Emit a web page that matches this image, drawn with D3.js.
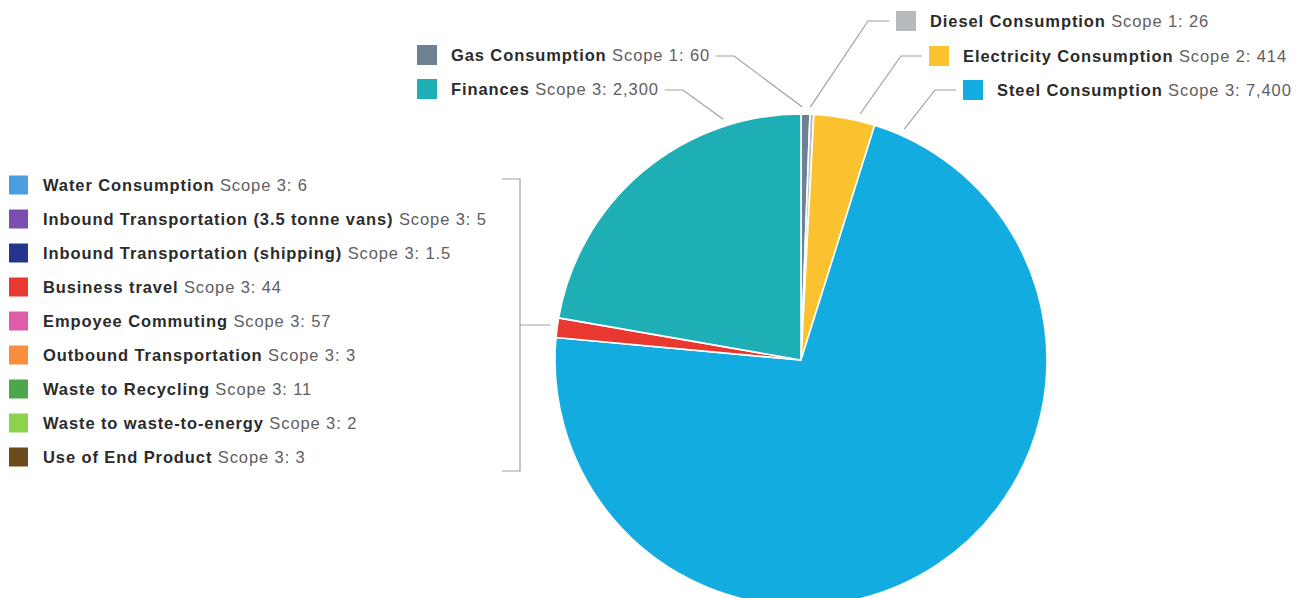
<!DOCTYPE html>
<html>
<head>
<meta charset="utf-8">
<script src="https://cdn.jsdelivr.net/npm/d3@7"></script>
<style>
  html, body { margin: 0; padding: 0; background: #fff; }
  svg { display: block; }
  text { font-family: "Liberation Sans", Arial, Helvetica, sans-serif; font-size: 16.5px; letter-spacing: 0.9px; }
  .name { font-weight: bold; fill: #2b2b2b; }
  .scope { fill: #606060; }
</style>
</head>
<body>
<svg id="chart" width="1307" height="598"></svg>
<script>
// Main pie slices, clockwise from 12 o'clock
const sliceNames  = ["Gas Consumption", "Diesel Consumption", "Electricity Consumption", "Steel Consumption", "Other Scope 3", "Finances"];
const sliceScopes = [1, 1, 2, 3, 3, 3];
const sliceValues = [60, 26, 414, 7400, null, 2300]; // null = sum of the grouped items below
const sliceColors = ["#6e8193", "#b7bbbd", "#f9c22e", "#13ace0", "#e8382f", "#1eaeb5"];

// Small Scope 3 items, drawn together as one wedge and listed on the left
const groupNames  = ["Water Consumption", "Inbound Transportation (3.5 tonne vans)", "Inbound Transportation (shipping)",
                     "Business travel", "Empoyee Commuting", "Outbound Transportation", "Waste to Recycling",
                     "Waste to waste-to-energy", "Use of End Product"];
const groupValues = [6, 5, 1.5, 44, 57, 3, 11, 2, 3];
const groupLabels = ["6", "5", "1.5", "44", "57", "3", "11", "2", "3"];
const groupColors = ["#4a9ee0", "#7a4fb0", "#25358e", "#e8382f", "#df5ca8", "#f98e3c", "#4ca64a", "#8dd14c", "#6b4a1b"];

const fmt = d3.format(",");

const svg = d3.select("#chart");
const cx = 801, cy = 360, R = 246;

const slices = sliceNames.map((n, i) => ({
  name: n,
  scope: sliceScopes[i],
  value: sliceValues[i] == null ? d3.sum(groupValues) : sliceValues[i],
  color: sliceColors[i]
}));

const pie = d3.pie().sort(null).value(d => d.value).startAngle(0).endAngle(2 * Math.PI);
const arc = d3.arc().innerRadius(0).outerRadius(R);
const arcs = pie(slices);

const g = svg.append("g").attr("transform", `translate(${cx},${cy})`);
g.selectAll("path").data(arcs).join("path")
  .attr("d", arc)
  .attr("fill", d => d.data.color)
  .attr("stroke", "#fff")
  .attr("stroke-width", 1.6)
  .attr("stroke-linejoin", "round");

// Callout layout for labelled slices: side, marker x, row y, angle where the leader meets the pie
const callouts = [
  { idx: 0, side: "left",  x: 417, y: 55, angle: 0.3 },
  { idx: 5, side: "left",  x: 417, y: 89, angle: -17.9 },
  { idx: 1, side: "right", x: 896, y: 21, angle: 2.1 },
  { idx: 2, side: "right", x: 929, y: 56, angle: 13.5 },
  { idx: 3, side: "right", x: 963, y: 90, angle: 24.1 }
];

const sq = 20, textOff = 34, lineColor = "#a0a0a0";

function polar(angleDeg, r) {
  const a = angleDeg * Math.PI / 180;
  return [cx + r * Math.sin(a), cy - r * Math.cos(a)];
}

function drawLabel(parent, x, y, name, rest, color, size) {
  parent.append("rect")
    .attr("x", x).attr("y", y - size / 2)
    .attr("width", size).attr("height", size)
    .attr("fill", color);
  const t = parent.append("text").attr("x", x + textOff).attr("y", y + 6);
  t.append("tspan").attr("class", "name").text(name);
  t.append("tspan").attr("class", "scope").text(" " + rest);
  return t;
}

const labels = svg.append("g");
callouts.forEach(c => {
  const s = slices[c.idx];
  const t = drawLabel(labels, c.x, c.y, s.name, `Scope ${s.scope}: ${fmt(s.value)}`, s.color, sq);
  const end = polar(c.angle, R + 7);
  let p0, p1;
  if (c.side === "left") {
    const tx = c.x + textOff + t.node().getComputedTextLength() + 6;
    p0 = [tx, c.y + 1];
    p1 = [tx + 18, c.y + 1];
  } else {
    p0 = [c.x - 7, c.y];
    p1 = [c.x - 28, c.y];
  }
  labels.append("polyline")
    .attr("points", [p0, p1, end].map(p => p.join(",")).join(" "))
    .attr("fill", "none")
    .attr("stroke", lineColor)
    .attr("stroke-width", 1.2);
});

// Left legend for the grouped Scope 3 items
const rowY = d3.scalePoint().domain(d3.range(groupNames.length)).range([185, 457]);
const legend = svg.append("g");
groupNames.forEach((n, i) => {
  drawLabel(legend, 9, rowY(i), n, `Scope 3: ${groupLabels[i]}`, groupColors[i], 19);
});

// Bracket joining the list to the grouped wedge
const bx = 520, bTop = rowY(0) - 6, bBot = rowY(groupNames.length - 1) + 14, bMid = (bTop + bBot) / 2;
const grp = arcs[4];
const grpMid = (grp.startAngle + grp.endAngle) / 2;
const edgeX = cx - Math.sqrt(R * R - (bMid - cy) * (bMid - cy)) - 7;
svg.append("path")
  .attr("d", `M${bx - 18},${bTop}H${bx}V${bBot}H${bx - 18}M${bx},${bMid}H${edgeX}`)
  .attr("fill", "none")
  .attr("stroke", lineColor)
  .attr("stroke-width", 1.2);
</script>
</body>
</html>
